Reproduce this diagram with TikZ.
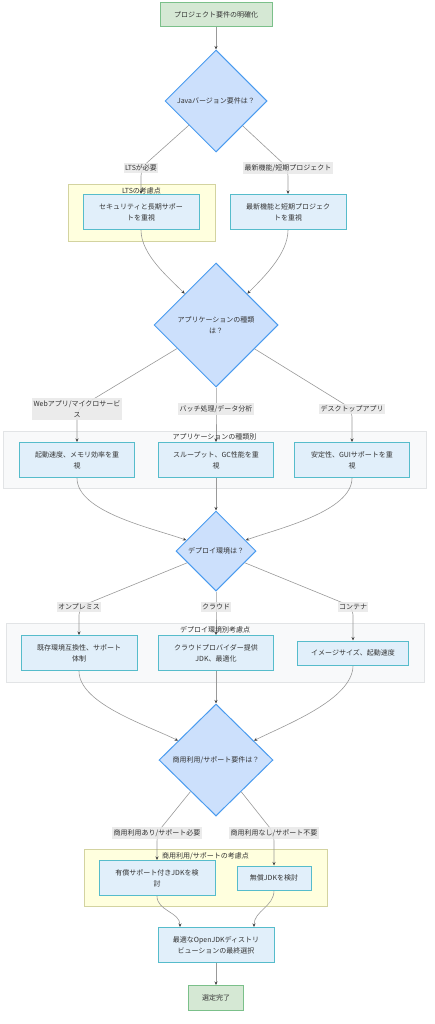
\documentclass[tikz,border=0pt]{standalone}
\usepackage{fontspec}
\setmainfont{Noto Sans CJK JP}
\usetikzlibrary{positioning,shapes.geometric,arrows.meta}

\definecolor{termfill}{HTML}{D5E8D4}
\definecolor{termline}{HTML}{7BC08A}
\definecolor{decfill}{HTML}{CCE0FC}
\definecolor{decline}{HTML}{4A9BEF}
\definecolor{boxfill}{HTML}{E1EFFA}
\definecolor{boxline}{HTML}{56BCCB}
\definecolor{yelfill}{HTML}{FFFFDE}
\definecolor{yelline}{HTML}{D3D3A0}
\definecolor{grayfill}{HTML}{F8F9FA}
\definecolor{grayline}{HTML}{E2E4E6}
\definecolor{lblfill}{HTML}{E8E8E8}
\definecolor{edgegray}{HTML}{999999}
\definecolor{arrowgray}{HTML}{444444}
\definecolor{txtgray}{HTML}{333333}

\pgfdeclarelayer{bg}
\pgfdeclarelayer{edges}
\pgfsetlayers{bg,edges,main}

\begin{document}
\begin{tikzpicture}[x=1pt,y=-1pt,
  every node/.style={font=\fontsize{7}{11}\selectfont,text=txtgray},
  termnode/.style={draw=termline,fill=termfill,line width=1pt,minimum height=24pt,align=center},
  decnode/.style={diamond,draw=decline,fill=decfill,line width=1pt,inner sep=0pt,align=center},
  boxnode/.style={draw=boxline,fill=boxfill,line width=1pt,minimum width=116pt,minimum height=35pt,align=center},
  edgelbl/.style={fill=lblfill,fill opacity=0.85,text opacity=1,inner xsep=1.2pt,inner ysep=2pt,align=center},
  yelgroup/.style={draw=yelline,fill=yelfill,line width=0.8pt},
  graygroup/.style={draw=grayline,fill=grayfill,line width=0.8pt},
  flow/.style={draw=edgegray,line width=0.6pt,-{Stealth[length=3.5pt,width=3pt,color=arrowgray]}}]
    \useasboundingbox (0,0) rectangle (434,1024);

    % groups
    \begin{pgfonlayer}{bg}
      \node[yelgroup,minimum width=147pt,minimum height=57pt] (g1) at (141.5,212.5) {};
      \node[graygroup,minimum width=423pt,minimum height=57pt] (g2) at (214.5,459.5) {};
      \node[graygroup,minimum width=418pt,minimum height=59pt] (g3) at (215,652.5) {};
      \node[yelgroup,minimum width=243pt,minimum height=57pt] (g4) at (205.5,877.5) {};
    \end{pgfonlayer}
    \node[below=0pt of g1.north] (g1t) {LTSの考慮点};
    \node[below=0pt of g2.north] (g2t) {アプリケーションの種類別};
    \node[below=0pt of g3.north] (g3t) {デプロイ環境別考慮点};
    \node[below=0pt of g4.north] (g4t) {商用利用/サポートの考慮点};

    \node[termnode,minimum width=112pt] (start) at (216,15) {プロジェクト要件の明確化};
    \node[decnode,minimum width=102pt,minimum height=102pt] (d1) at (216,101) {Javaバージョン要件は？};
    \node[edgelbl] (ltsl) at (141,168) {LTSが必要};
    \node[edgelbl] (newl) at (288,168) {最新機能/短期プロジェクト};
    \node[boxnode] (lts) at (141,212) {セキュリティと長期サポー\\トを重視};
    \node[boxnode] (newf) at (288,212) {最新機能と短期プロジェク\\トを重視};

    \node[decnode,minimum width=124pt,minimum height=124pt] (d2) at (216,325) {アプリケーションの種類\\は？};
    \node[edgelbl] (webl) at (77,409) {Webアプリ/マイクロサービ\\ス};
    \node[edgelbl] (batchl) at (216,409) {バッチ処理/データ分析};
    \node[edgelbl] (deskl) at (352,409) {デスクトップアプリ};
    \node[boxnode,minimum width=115pt] (webb) at (77,460) {起動速度、メモリ効率を重\\視};
    \node[boxnode,minimum width=115pt] (batchb) at (216,460) {スループット、GC性能を重\\視};
    \node[boxnode,minimum width=115pt] (deskb) at (352,460) {安定性、GUIサポートを重\\視};

    \node[decnode,minimum width=80pt,minimum height=80pt] (d3) at (216,551) {デプロイ環境は？};
    \node[edgelbl] (onpl) at (79,607) {オンプレミス};
    \node[edgelbl] (cloudl) at (216,607) {クラウド};
    \node[edgelbl] (contl) at (353,607) {コンテナ};
    \node[boxnode] (onpb) at (79,653) {既存環境互換性、サポート\\体制};
    \node[boxnode,minimum width=115pt] (cloudb) at (216,653) {クラウドプロバイダー提供\\JDK、最適化};
    \node[boxnode,minimum width=111pt,minimum height=24pt] (contb) at (353,653) {イメージサイズ、起動速度};

    \node[decnode,minimum width=114pt,minimum height=112pt] (d4) at (216,760) {商用利用/サポート要件は？};
    \node[edgelbl] (paidl) at (157,833) {商用利用あり/サポート必要};
    \node[edgelbl] (freel) at (274,833) {商用利用なし/サポート不要};
    \node[boxnode] (paidb) at (157,878) {有償サポート付きJDKを検\\討};
    \node[boxnode,minimum width=74pt,minimum height=24pt] (freeb) at (274,878) {無償JDKを検討};

    \node[boxnode] (final) at (216,945) {最適なOpenJDKディストリ\\ビューションの最終選択};
    \node[termnode,minimum width=55pt,minimum height=25pt] (done) at (216,998) {選定完了};

    % connectors
    \begin{pgfonlayer}{edges}
      \draw[flow] (start) -- (d1);
      \draw[flow,rounded corners=8pt] (d1) -- (ltsl.center) -- (lts);
      \draw[flow,rounded corners=8pt] (d1) -- (newl.center) -- (newf);
      \draw[flow] (lts) to[out=-90,in=135,looseness=0.8] (d2);
      \draw[flow] (newf) to[out=-90,in=45,looseness=0.8] (d2);

      \draw[flow,rounded corners=8pt] (d2) -- (webl.center) -- (webb);
      \draw[flow] (d2) -- (batchl.center) -- (batchb);
      \draw[flow,rounded corners=8pt] (d2) -- (deskl.center) -- (deskb);
      \draw[flow] (webb) to[out=-90,in=160,looseness=0.7] (d3);
      \draw[flow] (batchb) -- (d3);
      \draw[flow] (deskb) to[out=-90,in=20,looseness=0.7] (d3);

      \draw[flow,rounded corners=8pt] (d3) -- (onpl.center) -- (onpb);
      \draw[flow] (d3) -- (cloudl.center) -- (cloudb);
      \draw[flow,rounded corners=8pt] (d3) -- (contl.center) -- (contb);
      \draw[flow] (onpb) to[out=-90,in=153,looseness=0.7] (d4);
      \draw[flow] (cloudb) -- (d4);
      \draw[flow] (contb) to[out=-90,in=27,looseness=0.7] (d4);

      \draw[flow,rounded corners=8pt] (d4) -- (paidl.center) -- (paidb);
      \draw[flow,rounded corners=8pt] (d4) -- (freel.center) -- (freeb);
      \draw[flow] (paidb) to[out=-90,in=90] ([xshift=-36pt]final.north);
      \draw[flow] (freeb) to[out=-90,in=90] ([xshift=38pt]final.north);
      \draw[flow] (final) -- (done);
    \end{pgfonlayer}
\end{tikzpicture}
\end{document}
